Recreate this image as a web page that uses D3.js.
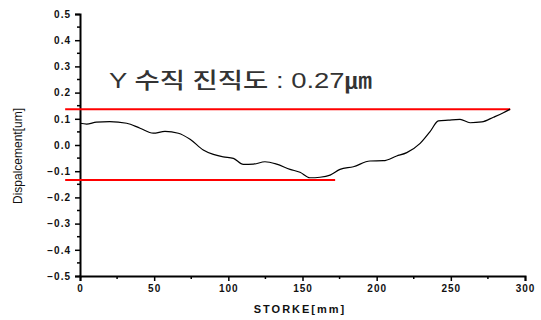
<!DOCTYPE html>
<html>
<head>
<meta charset="utf-8">
<script src="https://cdn.jsdelivr.net/npm/d3@7"></script>
<style>
  body { margin: 0; background: #fff; }
  svg { display: block; }
</style>
</head>
<body>
<div id="wrapper"></div>
<script>
// profile: stroke position [mm] and displacement [um]
const strokeMm = [0, 4.5, 11, 20, 31.5, 40.5, 49.4, 57.3, 66.3, 74.2, 83.1, 89.9, 96.6, 103.4, 110.1, 116.9, 124.7, 132.6, 141.6, 148.3, 155, 161.8, 168.6, 175.3, 184.3, 195.5, 204.5, 213.5, 220.3, 229.3, 236, 241.6, 248.3, 256.2, 263, 270.9, 278.7, 285.4, 290]
const displacement = [0.083, 0.080, 0.087, 0.089, 0.083, 0.064, 0.045, 0.052, 0.045, 0.022, -0.019, -0.036, -0.045, -0.051, -0.074, -0.073, -0.064, -0.073, -0.093, -0.104, -0.125, -0.123, -0.115, -0.093, -0.083, -0.061, -0.060, -0.042, -0.029, 0.006, 0.051, 0.092, 0.095, 0.098, 0.085, 0.088, 0.106, 0.123, 0.137]

// reference lines (max / min)
const upperLine = { x0: -10, x1: 290, y: 0.136 }
const lowerLine = { x0: -10, x1: 172, y: -0.134 }

const xTicks = [0, 50, 100, 150, 200, 250, 300]
const xMinor = [25, 75, 125, 175, 225, 275]
const yTicks = [-0.5, -0.4, -0.3, -0.2, -0.1, 0.0, 0.1, 0.2, 0.3, 0.4, 0.5]
const yMinor = [-0.45, -0.35, -0.25, -0.15, -0.05, 0.05, 0.15, 0.25, 0.35, 0.45]

const titleText = "Y 수직 진직도 : 0.27㎛"

const dimensions = {
  width: 541,
  height: 320,
  margin: { top: 14, right: 16, bottom: 44, left: 80 },
}
dimensions.boundedWidth = 445
dimensions.boundedHeight = 262

const wrapper = d3.select("#wrapper")
  .append("svg")
  .attr("width", dimensions.width)
  .attr("height", dimensions.height)
  .style("font-family", "'Liberation Sans', Arial, sans-serif")

const bounds = wrapper.append("g")
  .attr("transform", `translate(${dimensions.margin.left},${dimensions.margin.top})`)

const xScale = d3.scaleLinear()
  .domain([0, 300])
  .range([0, dimensions.boundedWidth])

const yScale = d3.scaleLinear()
  .domain([-0.5, 0.5])
  .range([dimensions.boundedHeight, 0])

// axes
const xAxis = bounds.append("g")
  .attr("transform", `translate(0,${dimensions.boundedHeight})`)
  .call(d3.axisBottom(xScale).tickValues(xTicks).tickSize(5).tickPadding(4).tickFormat(d3.format("d")))
xAxis.append("g").selectAll("line")
  .data(xMinor)
  .join("line")
  .attr("x1", d => xScale(d)).attr("x2", d => xScale(d))
  .attr("y1", 0).attr("y2", 3)
  .attr("stroke", "#000").attr("stroke-width", 1.5)

const yAxis = bounds.append("g")
  .call(d3.axisLeft(yScale).tickValues(yTicks).tickSize(5).tickPadding(4).tickFormat(d3.format(".1f")))
yAxis.append("g").selectAll("line")
  .data(yMinor)
  .join("line")
  .attr("x1", 0).attr("x2", -3)
  .attr("y1", d => yScale(d)).attr("y2", d => yScale(d))
  .attr("stroke", "#000").attr("stroke-width", 1.5)

bounds.selectAll(".domain").attr("stroke", "#000").attr("stroke-width", 2)
bounds.selectAll(".tick line").attr("stroke", "#000").attr("stroke-width", 1.5)
bounds.selectAll(".tick text")
  .attr("fill", "#111")
  .style("font-size", "10px")
  .style("font-weight", "bold")
  .style("letter-spacing", "1px")
  .style("font-family", "'Liberation Sans', Arial, sans-serif")

// red max/min lines
bounds.selectAll(".ref")
  .data([upperLine, lowerLine])
  .join("line")
  .attr("class", "ref")
  .attr("x1", d => xScale(d.x0))
  .attr("x2", d => xScale(d.x1))
  .attr("y1", d => yScale(d.y))
  .attr("y2", d => yScale(d.y))
  .attr("stroke", "#ff0000")
  .attr("stroke-width", 2)

// profile
const lineGenerator = d3.line()
  .x((d, i) => xScale(strokeMm[i]))
  .y(d => yScale(d))
  .curve(d3.curveMonotoneX)

bounds.append("path")
  .datum(displacement)
  .attr("d", lineGenerator)
  .attr("fill", "none")
  .attr("stroke", "#000")
  .attr("stroke-width", 1.2)

// title text
wrapper.append("text")
  .attr("x", 109)
  .attr("y", 87.5)
  .attr("fill", "#333")
  .attr("textLength", 263)
  .attr("lengthAdjust", "spacingAndGlyphs")
  .style("font-size", "22px")
  .style("font-weight", "500")
  .style("font-family", "'Liberation Sans', 'Noto Sans CJK KR', sans-serif")
  .text(titleText)

// axis labels
wrapper.append("text")
  .attr("transform", `translate(22,156) rotate(-90)`)
  .attr("text-anchor", "middle")
  .attr("fill", "#111")
  .style("font-size", "12px")
  .text("Dispalcement[um]")

wrapper.append("text")
  .attr("x", 300)
  .attr("y", 313)
  .attr("text-anchor", "middle")
  .attr("fill", "#111")
  .style("font-size", "11px")
  .style("font-weight", "bold")
  .style("letter-spacing", "2px")
  .text("STORKE[mm]")
</script>
</body>
</html>
